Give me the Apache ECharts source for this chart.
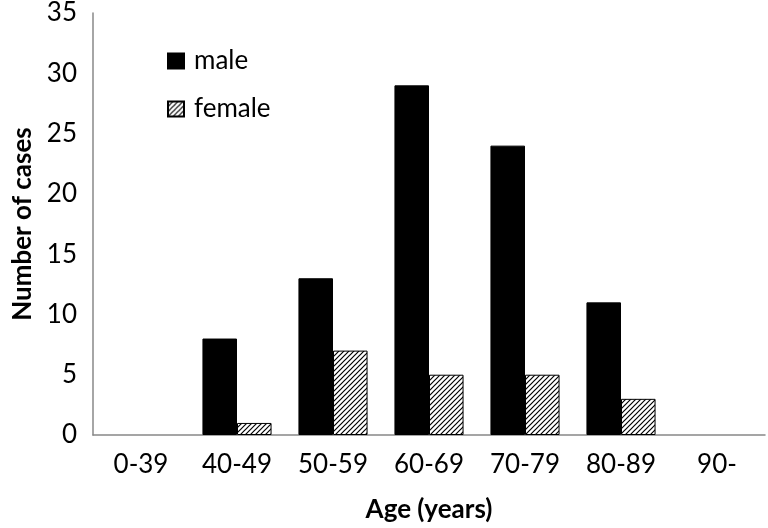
<!DOCTYPE html>
<html><head><meta charset="utf-8">
<script src="https://cdn.jsdelivr.net/npm/echarts@6/dist/echarts.min.js"></script>
<style>html,body{margin:0;padding:0;background:#fff}#c{width:768px;height:528px}</style>
</head><body><div id="c"></div>
<script>
const categories = ['0-39','40-49','50-59','60-69','70-79','80-89','90-'];
const maleValues = [0, 8, 13, 29, 24, 11, 0];
const femaleValues = [0, 1, 7, 5, 5, 3, 0];
const seriesNames = ['male', 'female'];

function hatch() {
  const s = 5;
  const c = document.createElement('canvas');
  c.width = s; c.height = s;
  const g = c.getContext('2d');
  g.fillStyle = '#fff'; g.fillRect(0,0,s,s);
  g.strokeStyle = '#000'; g.lineWidth = 1.2;
  g.beginPath();
  g.moveTo(0, s); g.lineTo(s, 0);
  g.moveTo(-1, 1); g.lineTo(1, -1);
  g.moveTo(s-1, s+1); g.lineTo(s+1, s-1);
  g.stroke();
  return c;
}
const hide0 = v => (v === 0 ? null : v);
const font = 'Lato';
const fs = 26;
const chart = echarts.init(document.getElementById('c'));
chart.setOption({
  animation: false,
  textStyle: {fontFamily: font},
  grid: {left: 93, right: 3, top: 13, bottom: 91},
  legend: {
    orient: 'vertical', left: 167, top: 48, padding: 0, itemWidth: 16, itemHeight: 15, itemGap: 22,
    icon: 'rect',
    textStyle: {fontFamily: font, fontSize: fs, color: '#000', padding: [0, 0, 0, 5]},
    data: seriesNames
  },
  xAxis: {
    type: 'category', data: categories,
    axisLine: {lineStyle: {color: '#888', width: 1.5}},
    axisTick: {show: false},
    axisLabel: {fontSize: fs, color: '#000', margin: 17, fontFamily: font},
    name: 'Age (years)', nameLocation: 'middle', nameGap: 62,
    nameTextStyle: {fontSize: fs, fontWeight: 'bold', color: '#000', fontFamily: font}
  },
  yAxis: {
    type: 'value', min: 0, max: 35, interval: 5,
    axisLine: {show: true, lineStyle: {color: '#888', width: 1.5}},
    axisTick: {show: false},
    splitLine: {show: false},
    axisLabel: {fontSize: fs, color: '#000', margin: 16, fontFamily: font},
    name: 'Number of cases', nameLocation: 'middle', nameGap: 56,
    nameTextStyle: {fontSize: fs, fontWeight: 'bold', color: '#000', fontFamily: font}
  },
  series: [
    {name: seriesNames[0], type: 'bar', data: maleValues.map(hide0), barGap: '0%', barCategoryGap: '28%',
     itemStyle: {color: '#000', borderColor: '#000', borderWidth: 1}},
    {name: seriesNames[1], type: 'bar', data: femaleValues.map(hide0),
     itemStyle: {color: {image: hatch(), repeat: 'repeat'}, borderColor: '#000', borderWidth: 1}}
  ]
});
</script></body></html>
